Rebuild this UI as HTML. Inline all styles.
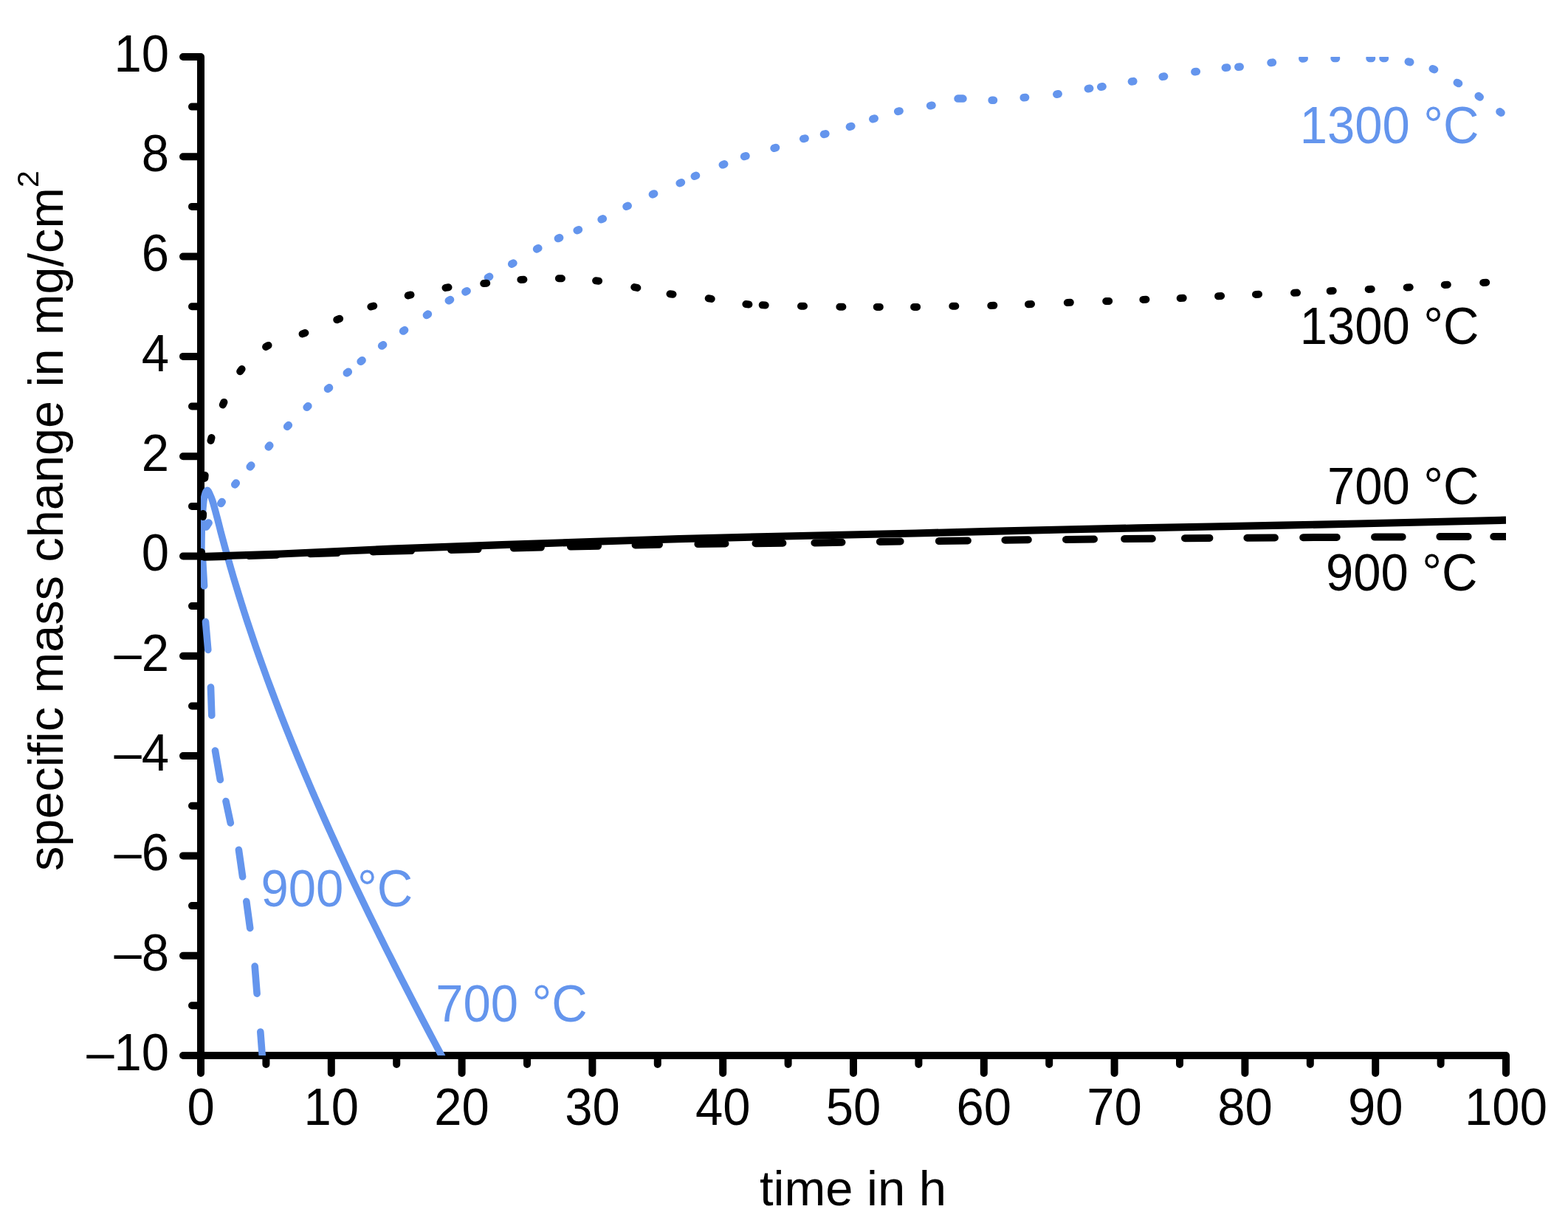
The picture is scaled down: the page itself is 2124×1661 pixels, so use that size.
<!DOCTYPE html>
<html><head><meta charset="utf-8"><title>specific mass change vs time</title>
<style>html,body{margin:0;padding:0;background:#fff;width:2124px;height:1661px;overflow:hidden}svg{display:block}</style>
</head><body>
<svg width="2124" height="1661" viewBox="0 0 2124 1661">
<rect x="0" y="0" width="2124" height="1661" fill="#fff"/>
<defs><clipPath id="pa"><rect x="272" y="77" width="1768" height="1353"/></clipPath></defs>
<path d="M248 77 H272 V1430 H2040 V1454 M248 212.3 H272 M248 347.6 H272 M248 482.9 H272 M248 618.2 H272 M248 753.5 H272 M248 888.8 H272 M248 1024.1 H272 M248 1159.4 H272 M248 1294.7 H272 M248 1430.0 H272 M260 144.6 H272 M260 279.9 H272 M260 415.2 H272 M260 550.5 H272 M260 685.9 H272 M260 821.1 H272 M260 956.5 H272 M260 1091.8 H272 M260 1227.1 H272 M260 1362.3 H272 M272.0 1430 V1454 M448.8 1430 V1454 M625.6 1430 V1454 M802.4 1430 V1454 M979.2 1430 V1454 M1156.0 1430 V1454 M1332.8 1430 V1454 M1509.6 1430 V1454 M1686.4 1430 V1454 M1863.2 1430 V1454 M360.4 1430 V1442 M537.2 1430 V1442 M714.0 1430 V1442 M890.8 1430 V1442 M1067.6 1430 V1442 M1244.4 1430 V1442 M1421.2 1430 V1442 M1598.0 1430 V1442 M1774.8 1430 V1442 M1951.6 1430 V1442" fill="none" stroke="#000" stroke-width="10" stroke-linecap="round" stroke-linejoin="round"/>
<g clip-path="url(#pa)">
<path d="M273.0 762.0 C273.0 758.3 272.9 748.3 273.0 740.0 C273.1 731.7 273.2 720.7 273.5 712.0 C273.8 703.3 274.4 694.7 275.0 688.0 C275.6 681.3 276.1 675.9 277.0 672.0 C277.9 668.1 279.3 664.9 280.5 664.4 C281.7 663.9 282.8 666.6 284.0 669.0 C285.2 671.4 286.4 673.8 288.0 679.0 C289.6 684.2 292.0 693.2 293.8 700.0 C295.7 706.8 297.2 713.3 298.9 720.0 C300.7 726.7 302.5 733.3 304.3 740.0 C306.1 746.7 308.0 753.3 309.9 760.0 C311.7 766.7 313.7 773.3 315.6 780.0 C317.6 786.7 319.6 793.3 321.7 800.0 C323.7 806.7 325.8 813.3 327.9 820.0 C330.0 826.7 332.1 833.3 334.3 840.0 C336.5 846.7 338.7 853.3 341.0 860.0 C343.2 866.7 345.5 873.3 347.8 880.0 C350.1 886.7 352.5 893.3 354.9 900.0 C357.3 906.7 359.7 913.3 362.1 920.0 C364.6 926.7 367.1 933.3 369.6 940.0 C372.1 946.7 374.6 953.3 377.2 960.0 C379.7 966.7 382.3 973.3 385.0 980.0 C387.6 986.7 390.3 993.3 393.0 1000.0 C395.6 1006.7 398.4 1013.3 401.1 1020.0 C403.8 1026.7 406.6 1033.3 409.4 1040.0 C412.2 1046.7 415.0 1053.3 417.9 1060.0 C420.7 1066.7 423.6 1073.3 426.5 1080.0 C429.4 1086.7 432.3 1093.3 435.3 1100.0 C438.2 1106.7 441.2 1113.3 444.2 1120.0 C447.2 1126.7 450.2 1133.3 453.3 1140.0 C456.3 1146.7 459.4 1153.3 462.5 1160.0 C465.6 1166.7 468.7 1173.3 471.8 1180.0 C475.0 1186.7 478.1 1193.3 481.3 1200.0 C484.5 1206.7 487.7 1213.3 490.9 1220.0 C494.1 1226.7 497.4 1233.3 500.6 1240.0 C503.9 1246.7 507.2 1253.3 510.5 1260.0 C513.8 1266.7 517.1 1273.3 520.4 1280.0 C523.7 1286.7 527.1 1293.3 530.5 1300.0 C533.8 1306.7 537.2 1313.3 540.6 1320.0 C544.0 1326.7 547.4 1333.3 550.9 1340.0 C554.3 1346.7 557.7 1353.3 561.2 1360.0 C564.7 1366.7 568.1 1373.3 571.6 1380.0 C575.1 1386.7 578.6 1393.3 582.1 1400.0 C585.7 1406.7 589.2 1413.3 592.7 1420.0 C596.3 1426.7 601.6 1436.7 603.4 1440.0" fill="none" stroke="#6495ED" stroke-width="9.4" stroke-linejoin="round"/>
<path d="M274.2 752.6 L276.6 793.8 M278.5 842.3 L281.8 880.4 M285.5 931.1 L286.8 969.3 M291.5 1017.1 L298.3 1056.4 M306.0 1085.5 L312.3 1115.0 M323.4 1151.4 L328.6 1187.8 M333.8 1221.3 L338.7 1257.4 M345.2 1309.1 L348.1 1346.2 M352.8 1398.0 L355.8 1437.4" fill="none" stroke="#6495ED" stroke-width="9.6" stroke-linecap="round"/>
<path d="M279.4 713.5 L282.6 708.5 M299.3 682.0 L300.7 680.0 M318.2 656.5 L319.8 654.5 M338.7 632.4 L340.3 630.6 M363.7 605.4 L365.3 603.6 M389.1 577.9 L390.9 576.1 M415.6 551.8 L417.4 550.2 M444.0 526.9 L446.0 525.3 M469.8 505.4 L471.8 503.8 M488.6 489.8 L490.6 488.2 M517.1 468.6 L519.1 467.2 M546.1 448.6 L548.1 447.2 M577.9 427.0 L579.9 425.6 M607.8 407.3 L610.0 406.1 M630.4 395.4 L632.6 394.2 M660.9 376.0 L663.1 374.8 M693.2 357.7 L695.4 356.5 M727.1 337.4 L729.3 336.2 M755.9 323.1 L758.1 322.1 M781.7 312.2 L783.9 311.2 M814.6 297.3 L816.8 296.3 M848.5 279.8 L850.7 278.8 M883.9 263.4 L886.1 262.4 M920.7 248.2 L922.9 247.2 M940.8 238.8 L943.0 237.8 M978.8 223.3 L981.2 222.3 M1008.1 212.1 L1010.5 211.3 M1048.6 200.8 L1051.0 200.0 M1088.2 188.1 L1090.6 187.5 M1116.0 181.9 L1118.4 181.3 M1150.9 171.8 L1153.3 171.0 M1182.3 161.3 L1184.7 160.5 M1216.2 151.0 L1218.6 150.4 M1260.1 143.3 L1262.5 142.7 M1297.5 133.6 L1304.5 133.6 M1343.6 135.7 L1346.0 135.7 M1386.7 132.2 L1389.1 132.0 M1431.3 127.7 L1433.7 127.3 M1473.8 120.2 L1476.2 119.8 M1491.2 117.7 L1493.6 117.3 M1532.9 110.5 L1535.3 110.1 M1574.7 103.9 L1577.1 103.5 M1618.4 97.3 L1620.8 96.9 M1659.8 91.8 L1662.2 91.6 M1677.3 90.7 L1679.7 90.5 M1721.5 85.0 L1723.9 84.6 M1764.3 79.4 L1766.7 79.2 M1807.6 79.0 L1810.0 79.0 M1855.5 79.0 L1858.0 79.0 M1873.5 78.9 L1875.9 79.1 M1907.8 83.6 L1910.2 84.2 M1940.8 93.2 L1943.0 94.2 M1973.8 111.9 L1976.0 113.1 M2002.7 130.1 L2004.7 131.5 M2031.5 151.3 L2033.5 152.7" fill="none" stroke="#6495ED" stroke-width="10.5" stroke-linecap="round"/>
</g>
<g clip-path="url(#pa)">
<path d="M272.0 754.0 C290.0 753.4 337.0 752.2 380.0 750.5 C423.0 748.8 480.0 745.8 530.0 743.7 C580.0 741.7 625.0 740.2 680.0 738.2 C735.0 736.2 800.0 733.9 860.0 732.0 C920.0 730.1 976.7 728.6 1040.0 727.0 C1103.3 725.4 1173.3 724.1 1240.0 722.5 C1306.7 720.9 1373.3 719.0 1440.0 717.5 C1506.7 716.0 1573.3 714.8 1640.0 713.5 C1706.7 712.2 1773.3 711.0 1840.0 709.5 C1906.7 708.0 2006.7 705.5 2040.0 704.7" fill="none" stroke="#000" stroke-width="10.2"/>
<path d="M277.0 754.8 L305.0 753.9 M337.0 752.9 L375.0 751.7 M420.0 750.2 L457.0 749.0 M505.0 747.4 L557.2 746.1 M611.0 745.0 L647.6 744.1 M695.8 742.6 L732.9 741.6 M773.0 740.6 L810.1 739.7 M860.6 738.4 L893.0 737.8 M945.4 737.1 L982.5 736.6 M1023.5 736.2 L1060.4 735.8 M1103.4 735.4 L1140.5 734.8 M1191.9 733.9 L1219.6 733.6 M1271.9 733.1 L1310.9 732.5 M1361.4 731.7 L1392.8 731.3 M1444.0 730.9 L1482.0 730.6 M1523.2 730.1 L1560.8 729.7 M1605.0 729.2 L1638.4 728.9 M1689.4 728.7 L1726.9 728.5 M1765.2 728.2 L1810.7 727.9 M1862.1 727.6 L1899.6 727.4 M1950.4 727.1 L1988.6 727.0 M2023.3 727.0 L2045.0 727.0" fill="none" stroke="#000" stroke-width="10" stroke-linecap="round"/>
<path d="M272.9 752.0 L273.1 748.0 M274.9 700.0 L275.1 696.0 M277.3 648.0 L277.7 644.0 M285.5 596.9 L286.5 593.1 M301.8 548.5 L303.4 544.9 M325.2 503.2 L327.6 500.0 M360.1 469.9 L363.5 467.9 M409.6 452.4 L413.4 451.0 M456.3 433.2 L460.1 431.8 M502.4 415.6 L506.2 414.4 M552.7 400.4 L556.5 399.4 M603.5 389.9 L607.5 389.3 M655.2 384.1 L659.2 383.7 M705.4 378.9 L709.4 378.7 M756.9 377.3 L760.9 377.3 M807.1 380.3 L811.1 380.7 M859.3 389.1 L863.3 389.9 M907.5 398.2 L911.5 398.8 M959.7 404.3 L963.7 404.9 M1010.4 412.0 L1014.4 412.4 M1032.7 413.3 L1036.7 413.5 M1085.0 414.8 L1089.0 414.8 M1137.4 415.7 L1141.4 415.7 M1187.8 415.9 L1191.8 415.9 M1238.1 415.9 L1242.1 415.9 M1290.3 414.8 L1294.3 414.8 M1342.3 414.0 L1346.3 413.8 M1393.0 412.2 L1397.0 412.0 M1445.8 410.0 L1449.8 409.8 M1498.2 408.1 L1502.2 407.9 M1548.4 405.9 L1552.4 405.7 M1598.7 404.0 L1602.7 403.8 M1650.1 401.2 L1654.1 401.0 M1701.0 398.9 L1705.0 398.7 M1753.0 396.8 L1757.0 396.6 M1801.7 394.2 L1805.7 394.0 M1853.7 391.9 L1857.7 391.7 M1905.7 389.4 L1909.7 389.2 M1956.8 385.9 L1960.8 385.7 M2009.2 382.9 L2013.2 382.7" fill="none" stroke="#000" stroke-width="10" stroke-linecap="round"/>
</g>
<g font-family="'Liberation Sans', Arial, sans-serif" font-size="67" fill="#000">
<text transform="translate(229.0 96.8) scale(1 1.04)" text-anchor="end">10</text>
<text transform="translate(229.0 232.1) scale(1 1.04)" text-anchor="end">8</text>
<text transform="translate(229.0 367.4) scale(1 1.04)" text-anchor="end">6</text>
<text transform="translate(229.0 502.7) scale(1 1.04)" text-anchor="end">4</text>
<text transform="translate(229.0 638.0) scale(1 1.04)" text-anchor="end">2</text>
<text transform="translate(229.0 773.3) scale(1 1.04)" text-anchor="end">0</text>
<text transform="translate(229.0 908.6) scale(1 1.04)" text-anchor="end">–2</text>
<text transform="translate(229.0 1043.9) scale(1 1.04)" text-anchor="end">–4</text>
<text transform="translate(229.0 1179.2) scale(1 1.04)" text-anchor="end">–6</text>
<text transform="translate(229.0 1314.5) scale(1 1.04)" text-anchor="end">–8</text>
<text transform="translate(229.0 1449.8) scale(1 1.04)" text-anchor="end">–10</text>
<text transform="translate(272.0 1523.5) scale(1 1.04)" text-anchor="middle">0</text>
<text transform="translate(448.8 1523.5) scale(1 1.04)" text-anchor="middle">10</text>
<text transform="translate(625.6 1523.5) scale(1 1.04)" text-anchor="middle">20</text>
<text transform="translate(802.4 1523.5) scale(1 1.04)" text-anchor="middle">30</text>
<text transform="translate(979.2 1523.5) scale(1 1.04)" text-anchor="middle">40</text>
<text transform="translate(1156.0 1523.5) scale(1 1.04)" text-anchor="middle">50</text>
<text transform="translate(1332.8 1523.5) scale(1 1.04)" text-anchor="middle">60</text>
<text transform="translate(1509.6 1523.5) scale(1 1.04)" text-anchor="middle">70</text>
<text transform="translate(1686.4 1523.5) scale(1 1.04)" text-anchor="middle">80</text>
<text transform="translate(1863.2 1523.5) scale(1 1.04)" text-anchor="middle">90</text>
<text transform="translate(2040.0 1523.5) scale(1 1.04)" text-anchor="middle">100</text>
<text x="1155.5" y="1633" text-anchor="middle">time in h</text>
<text transform="translate(85 1180) rotate(-90)" font-size="66.65">specific mass change in mg/cm<tspan font-size="41" dy="-33">2</tspan></text>
<text transform="translate(2003.5 466.4) scale(1 1.04)" text-anchor="end">1300 °C</text>
<text transform="translate(2003.5 683.0) scale(1 1.04)" text-anchor="end">700 °C</text>
<text transform="translate(2001.5 799.5) scale(1 1.04)" text-anchor="end">900 °C</text>
</g>
<g font-family="'Liberation Sans', Arial, sans-serif" font-size="67" fill="#6495ED">
<text transform="translate(2003.5 194.3) scale(1 1.04)" text-anchor="end">1300 °C</text>
<text transform="translate(353.5 1228.0) scale(1 1.04)">900 °C</text>
<text transform="translate(590.2 1383.7) scale(1 1.04)">700 °C</text>
</g>
</svg></body></html>
